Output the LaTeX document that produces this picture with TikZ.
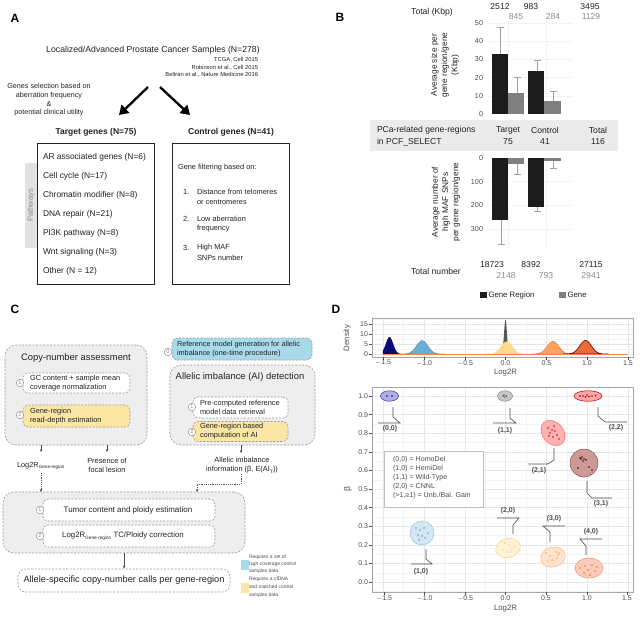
\documentclass[tikz,border=0pt]{standalone}
\usepackage{fontspec}
\setmainfont{Liberation Sans}
\usetikzlibrary{arrows.meta,shapes.geometric,calc}
\definecolor{boxgray}{HTML}{EEEEEE}
\definecolor{dashg}{HTML}{9A9A9A}
\definecolor{ylw}{HTML}{FCE6A4}
\definecolor{blu}{HTML}{A8DAE9}
\definecolor{numg}{HTML}{8A8A8A}
\definecolor{axg}{HTML}{4D4D4D}
\definecolor{gridc}{HTML}{E6E6E6}
\definecolor{gridm}{HTML}{F3F3F3}
\definecolor{barg}{HTML}{808080}
\definecolor{bark}{HTML}{1C1C1C}
\definecolor{bandg}{HTML}{EBEBEB}
\definecolor{pathg}{HTML}{E2E2E2}
\definecolor{txt}{HTML}{222222}
\definecolor{txtg}{HTML}{8C8C8C}
\definecolor{errg}{HTML}{A0A0A0}
\definecolor{pnavy}{HTML}{0B0B78}
\definecolor{pblue}{HTML}{6BAED6}
\definecolor{pgray}{HTML}{555555}
\definecolor{pyel}{HTML}{FDD98E}
\definecolor{porg}{HTML}{FBA35C}
\definecolor{pred}{HTML}{EE6A3A}
\newcommand{\myfs}[1]{\fontsize{#1}{#1}\selectfont}
\newcommand{\myfsl}[2]{\fontsize{#1}{#2}\selectfont}
\newcommand{\mydotset}[2]{\foreach \p in {#2} \fill[#1] \p circle (0.9);}
\begin{document}
\begin{tikzpicture}[x=1pt,y=-1pt,
  every node/.style={inner sep=0pt, outer sep=0pt, text=txt},
  panlab/.style={font=\myfs{12}\bfseries, text=black},
  fitem/.style={font=\myfs{8.4}, anchor=west},
  fctl/.style={font=\myfs{7.4}, anchor=west},
  fB/.style={font=\myfs{8.6}},
  fBg/.style={font=\myfs{8.6}, text=txtg},
  ftick/.style={font=\myfs{7.2}, anchor=east, text=axg},
  bigbox/.style={draw=black!85, line width=0.8pt, anchor=north west},
  bigarrow/.style={line width=2.3pt, -{Triangle[length=9pt,width=11pt]}},
  errl/.style={draw=errg, line width=0.45pt},
  cbig/.style={draw=dashg, line width=0.6pt, dash pattern=on 2pt off 1.5pt, fill=boxgray, rounded corners=11pt, anchor=north west},
  cin/.style={draw=dashg, line width=0.6pt, dash pattern=on 2pt off 1.5pt, fill=white, rounded corners=5pt, anchor=north west},
  num/.style={circle, draw=numg, fill=white, line width=0.4pt, minimum size=7.5pt, font=\myfs{5.5}, text=numg},
  ctext/.style={font=\myfsl{7.4}{9}, align=left, anchor=west},
  carr/.style={draw=axg, line width=0.5pt, -{Stealth[length=3pt,width=2.6pt]}},
  cdash/.style={carr, dash pattern=on 1.2pt off 1pt},
  dtick/.style={font=\myfs{7}, text=axg},
  ell/.style={ellipse, line width=0.5pt},
  lead/.style={draw=axg, line width=0.6pt},
  llab/.style={font=\myfs{7}\bfseries, text=axg}
]
\useasboundingbox (0,0) rectangle (642,616);
\fill[white] (0,0) rectangle (642,616);

%================ PANEL A ================
\node[panlab] (labA) at (15,18) {A};
\node[font=\myfs{8.7}] (title) at (153,50) {Localized/Advanced Prostate Cancer Samples (N=278)};
\node[font=\myfs{5.8}, anchor=east] (r1) at (258,60) {TCGA, Cell 2015};
\node[font=\myfs{5.8}, anchor=east] (r2) at (258,67.5) {Robinson et al., Cell 2015};
\node[font=\myfs{5.8}, anchor=east] (r3) at (258,75) {Beltran et al., Nature Medicine 2016};
\node[font=\myfsl{7.2}{8.7}, align=center] (sel) at (49,100) {Genes selection based on\\aberration frequency\\\&\\potential clinical utility};
\coordinate (a1s) at (148,87); \coordinate (a1e) at (119,115);
\coordinate (a2s) at (160,87); \coordinate (a2e) at (190,115);
\draw[bigarrow] (a1s) -- (a1e);
\draw[bigarrow] (a2s) -- (a2e);
\node[font=\myfs{8.5}\bfseries] (tgh) at (96,132) {Target genes (N=75)};
\node[font=\myfs{8.5}\bfseries] (cgh) at (231,132) {Control genes (N=41)};
\node[fill=pathg, minimum width=12, minimum height=85, anchor=north west] (pbar) at (25,163) {};
\node[rotate=90, font=\myfs{7.5}, text=numg] (ptxt) at (pbar.center) {Pathways};
\node[bigbox, minimum width=117, minimum height=141] (tbox) at (37,143) {};
\node[bigbox, minimum width=117, minimum height=141] (cbox) at (172,143) {};
\node[fitem] (i1) at (43,157) {AR associated genes (N=6)};
\node[fitem] (i2) at (43,176) {Cell cycle (N=17)};
\node[fitem] (i3) at (43,195) {Chromatin modifier (N=8)};
\node[fitem] (i4) at (43,214) {DNA repair (N=21)};
\node[fitem] (i5) at (43,233) {PI3K pathway (N=8)};
\node[fitem] (i6) at (43,252) {Wnt signaling (N=3)};
\node[fitem] (i7) at (43,271) {Other (N = 12)};
\node[fctl] (g0) at (178,168) {Gene filtering based on:};
\node[fctl] (g1n) at (183,192) {1.};
\node[fctl] (g1a) at (197,192) {Distance from telomeres};
\node[fctl] (g1b) at (197,202) {or centromeres};
\node[fctl] (g2n) at (183,219) {2.};
\node[fctl] (g2a) at (197,219) {Low aberration};
\node[fctl] (g2b) at (197,229) {frequency};
\node[fctl] (g3n) at (183,248) {3.};
\node[fctl] (g3a) at (197,248) {High MAF};
\node[fctl] (g3b) at (197,258) {SNPs number};

%================ PANEL B ================
\node[panlab] (labB) at (340,17) {B};
\node[fB] (totk) at (432,12) {Total (Kbp)};
\node[fB] (t1) at (500,7) {2512}; \node[fBg] (t1g) at (516,17) {845};
\node[fB] (t2) at (531,7) {983};  \node[fBg] (t2g) at (553,17) {284};
\node[fB] (t3) at (590,7) {3495}; \node[fBg] (t3g) at (591,17) {1129};
% top chart grid
\foreach \yy in {23,41.2,59.4,77.6,95.8} \draw[gridm, line width=0.5pt] (488,\yy) -- (572,\yy);
\foreach \xx in {508,546} \draw[gridm, line width=0.5pt] (\xx,20) -- (\xx,114);
\foreach \v/\yy in {50/23,40/41.2,30/59.4,20/77.6,10/95.8,0/114} \node[ftick] (tk\v) at (483,\yy) {\v};
% bars top
\fill[bark] (492,114) rectangle (508,54);
\fill[barg] (508,114) rectangle (524,93);
\fill[bark] (528,114) rectangle (544,71);
\fill[barg] (544,114) rectangle (561,101);
\draw[errl] (500,54) -- (500,27) (497,27) -- (504,27);
\draw[errl] (517,93) -- (517,77) (514,77) -- (521,77);
\draw[errl] (537,71) -- (537,60) (534,60) -- (541,60);
\draw[errl] (553,101) -- (553,91) (550,91) -- (557,91);
\node[rotate=90, font=\myfsl{8.3}{10.2}, align=center] (ylt) at (445,65) {Average size per\\gene region/gene\\(Kbp)};
% band
\fill[bandg] (370,120) rectangle (618,151);
\node[fB, anchor=west] (pc1) at (377,130) {PCa-related gene-regions};
\node[fB, anchor=west] (pc2) at (377,142) {in PCF\_SELECT};
\node[fB] (bt1) at (508,130) {Target};  \node[fB] (bt2) at (508,142) {75};
\node[fB] (bc1) at (545,130) {Control}; \node[fB] (bc2) at (545,142) {41};
\node[fB] (bo1) at (598,130) {Total};   \node[fB] (bo2) at (598,142) {116};
% bottom chart grid
\foreach \yy in {181.7,205.4,229.1} \draw[gridm, line width=0.5pt] (488,\yy) -- (572,\yy);
\foreach \xx in {508,546} \draw[gridm, line width=0.5pt] (\xx,158) -- (\xx,250);
\foreach \v/\yy in {0/158,100/181.7,200/205.4,300/229.1} \node[ftick] (bk\v) at (483,\yy) {\v};
\fill[bark] (492,158) rectangle (508,220);
\fill[barg] (508,158) rectangle (524,163.5);
\fill[bark] (528,158) rectangle (544,207);
\fill[barg] (544,158) rectangle (561,161);
\draw[errl] (501,220) -- (501,244) (498,244) -- (505,244);
\draw[errl] (517,163.5) -- (517,174) (514,174) -- (521,174);
\draw[errl] (537,207) -- (537,211) (534,211) -- (541,211);
\draw[errl] (553,161) -- (553,168) (550,168) -- (557,168);
\node[rotate=90, font=\myfsl{8.3}{10.2}, align=center] (ylb) at (446,202) {Average number of\\high MAF SNPs\\per gene region/gene};
\node[fB] (totn) at (436,271) {Total number};
\node[fB] (n1) at (492,265) {18723}; \node[fBg] (n1g) at (506,276) {2148};
\node[fB] (n2) at (531,265) {8392};  \node[fBg] (n2g) at (546,276) {793};
\node[fB] (n3) at (591,265) {27115}; \node[fBg] (n3g) at (591,276) {2941};
\node[fill=bark, minimum width=7, minimum height=6.5] (lgk) at (483.5,295) {};
\node[font=\myfs{7.8}, anchor=west] (lgkt) at (488.5,295) {Gene Region};
\node[fill=barg, minimum width=7, minimum height=6.5] (lgg) at (562.5,295) {};
\node[font=\myfs{7.8}, anchor=west] (lggt) at (567.5,295) {Gene};

%================ PANEL C ================
\node[panlab] (labC) at (15,309) {C};
\node[cbig, minimum width=142, minimum height=100] (cna) at (5,345) {};
\node[font=\myfs{9.4}] (cnat) at (76,358) {Copy-number assessment};
\node[cin, minimum width=107, minimum height=20] (c1) at (23,373) {};
\node[ctext] (c1t) at (30,383.5) {GC content + sample mean\\coverage normalization};
\node[num] (c1n) at (20,383) {1};
\node[cin, fill=ylw, minimum width=107, minimum height=22] (c2) at (23,405) {};
\node[ctext] (c2t) at (30,416) {Gene-region\\read-depth estimation};
\node[num] (c2n) at (20,415) {2};
\node[cin, fill=blu, minimum width=140, minimum height=22] (r0) at (172,338) {};
\node[ctext, font=\myfsl{7.3}{9}] (r0t) at (177,349.5) {Reference model generation for allelic\\imbalance (one-time procedure)};
\node[num] (r0n) at (168,352) {0};
\node[cbig, minimum width=145, minimum height=80] (aib) at (170,365) {};
\node[font=\myfs{9.4}] (aibt) at (240,377) {Allelic imbalance (AI) detection};
\node[cin, minimum width=95, minimum height=21] (a1) at (193,397) {};
\node[ctext] (a1t) at (200,407.5) {Pre-computed reference\\model data retrieval};
\node[num] (a1n) at (192,407) {1};
\node[cin, fill=ylw, minimum width=95, minimum height=20] (a2) at (193,421.5) {};
\node[ctext] (a2t) at (200,431.5) {Gene-region based\\computation of AI};
\node[num] (a2n) at (192,432) {2};
\coordinate (cs1) at (41,445); \coordinate (ce1) at (41,452);
\coordinate (cs2) at (107,445); \coordinate (ce2) at (107,452);
\coordinate (cs3) at (241,445); \coordinate (ce3) at (241,453);
\draw[carr] (cs1) -- (ce1);
\draw[carr] (cs2) -- (ce2);
\draw[carr] (cs3) -- (ce3);
\node[font=\myfs{7.4}, anchor=west] (l2r) at (17,466) {Log2R\raisebox{-1.6pt}{\myfs{4.6}Gene-region}};
\node[font=\myfsl{7.4}{9}, align=center] (pfl) at (107,465.5) {Presence of\\focal lesion};
\node[font=\myfsl{7.4}{9}, align=center] (aii) at (242,465.5) {Allelic imbalance\\information (β, E(AI\raisebox{-1.2pt}{\myfs{5}T}))};
\node[cbig, minimum width=242, minimum height=61] (corr) at (3,492) {};
\node[cin, minimum width=172, minimum height=22] (k1) at (43,499) {};
\node[font=\myfs{8}] (k1t) at (128,510) {Tumor content and ploidy estimation};
\node[num] (k1n) at (40,510) {1};
\node[cin, minimum width=172, minimum height=22] (k2) at (43,525) {};
\node[font=\myfs{7.8}] (k2t) at (123,536) {Log2R\raisebox{-1.6pt}{\myfs{4.7}Gene-region} TC/Ploidy correction};
\node[num] (k2n) at (40,536) {2};
\coordinate (d1s) at (41,473); \coordinate (d1e) at (41,492);
\draw[cdash] (d1s) -- (d1e);
\coordinate (d2s) at (241,474); \coordinate (d2e) at (197,492);
\draw[cdash] (d2s) -- (241,484) -| (d2e);
\node[cin, minimum width=212, minimum height=23, rounded corners=8pt] (fin) at (18,569) {};
\node[font=\myfs{9.2}] (fint) at (124,580.5) {Allele-specific copy-number calls per gene-region};
\coordinate (fs) at (124,553); \coordinate (fe) at (124,568.5);
\draw[carr] (fs) -- (fe);
\node[fill=blu, minimum width=8, minimum height=10] (lgb) at (244.5,565) {};
\node[font=\myfsl{4.9}{7.2}, align=left, anchor=west, text=axg] (lgbt) at (249,564) {Requires a set of\\high-coverage control\\samples data};
\node[fill=ylw, minimum width=8, minimum height=10] (lgy) at (244.5,588) {};
\node[font=\myfsl{4.9}{7.8}, align=left, anchor=west, text=axg] (lgyt) at (249,587) {Requires a cfDNA\\and matched control\\samples data};

%================ PANEL D ================
\node[panlab] (labD) at (336,309) {D};
% density panel
\begin{scope}
\clip (372,318) rectangle (633,357);
\foreach \xx in {403.5,444.5,485,526,567,608} \draw[gridm, line width=0.4pt] (\xx,318) -- (\xx,357);
\foreach \xx in {383,424,465,505.5,546.5,587,628} \draw[gridc, line width=0.5pt] (\xx,318) -- (\xx,357);
\foreach \yy in {319,329,339,349} \draw[gridm, line width=0.4pt] (372,\yy) -- (633,\yy);
\foreach \yy in {324,334,344,354} \draw[gridc, line width=0.5pt] (372,\yy) -- (633,\yy);
\end{scope}
\begin{scope}[shift={(505.5,354)}, x=81.7pt, y=2pt]
 \fill[pnavy] plot[domain=-1.5:-1.26, samples=40, smooth] (\x,{8.5*exp(-((\x+1.42)*(\x+1.42))/(2*0.045*0.045))}) -- (-1.26,0) -- (-1.5,0) -- cycle;
 \filldraw[fill=pblue, draw=pblue!80!black, line width=0.3pt] plot[domain=-1.3:-0.74, samples=50, smooth] (\x,{6.7*exp(-((\x+1.02)*(\x+1.02))/(2*0.07*0.07))}) -- cycle;
 \fill[pgray] plot[domain=-0.08:0.08, samples=50, smooth] (\x,{17*exp(-(\x*\x)/(2*0.018*0.018))}) -- cycle;
 \fill[pyel] plot[domain=-0.26:0.29, samples=50, smooth] (\x,{6.3*exp(-((\x-0.015)*(\x-0.015))/(2*0.07*0.07))}) -- cycle;
 \filldraw[fill=porg, draw=pred, line width=0.4pt] plot[domain=0.3:0.86, samples=50, smooth] (\x,{6.3*exp(-((\x-0.58)*(\x-0.58))/(2*0.07*0.07))}) -- cycle;
 \filldraw[fill=pred, draw=black!60!red, line width=0.6pt] plot[domain=0.7:1.26, samples=50, smooth] (\x,{6.8*exp(-((\x-0.98)*(\x-0.98))/(2*0.07*0.07))}) -- cycle;
 \draw[red!40!orange!70, line width=0.6pt] (-1.5,0) -- (1.5,0);
\end{scope}
\node[draw=black!35, line width=0.5pt, minimum width=261, minimum height=39, anchor=north west] (dpan) at (372,318) {};
\foreach \v/\yy in {15/324,10/334,5/344,0/354} {\node[dtick, anchor=east] (dy\v) at (368,\yy) {\v}; \draw[axg, line width=0.4pt] (369,\yy) -- (372,\yy);}
\foreach \v/\xx [count=\i] in {$-$1.5/383,$-$1.0/424,$-$0.5/465,0.0/505.5,0.5/546.5,1.0/587,1.5/628} {\node[dtick] (dx\i) at (\xx,363) {\v}; \draw[axg, line width=0.4pt] (\xx,357) -- (\xx,359.5);}
\node[font=\myfs{7.8}, text=axg] (dxl) at (505.5,373) {Log2R};
\node[font=\myfs{7.8}, text=axg, rotate=90] (dyl) at (347,338) {Density};

% scatter panel
\begin{scope}
\clip (372,387) rectangle (633,592);
\foreach \xx in {403.5,444.5,485,526,567,608} \draw[gridm, line width=0.4pt] (\xx,387) -- (\xx,592);
\foreach \xx in {383,424,465,505.5,546.5,587,628} \draw[gridc, line width=0.5pt] (\xx,387) -- (\xx,592);
\foreach \k in {0,...,10} \draw[gridc, line width=0.5pt] (372,582-18.6*\k) -- (633,582-18.6*\k);
\foreach \k in {0,...,10} \draw[gridm, line width=0.4pt] (372,591.3-18.6*\k) -- (633,591.3-18.6*\k);
\end{scope}
\node[draw=black!35, line width=0.5pt, minimum width=261, minimum height=205, anchor=north west] (span) at (372,387) {};
\foreach \v [count=\k from 0] in {0.0,0.1,0.2,0.3,0.4,0.5,0.6,0.7,0.8,0.9,1.0} {\node[dtick, anchor=east] (sy\k) at (368,582-18.6*\k) {\v}; \draw[axg, line width=0.4pt] (369,582-18.6*\k) -- (372,582-18.6*\k);}
\foreach \v/\xx [count=\i] in {$-$1.5/384,$-$1.0/424.5,$-$0.5/465,0.0/505.5,0.5/546,1.0/587,1.5/627} {\node[dtick] (sx\i) at (\xx,598.5) {\v}; \draw[axg, line width=0.4pt] (\xx,592) -- (\xx,594.5);}
\node[font=\myfs{7.8}, text=axg] (sxl) at (505.5,609) {Log2R};
\node[font=\myfs{8.5}, text=axg, rotate=90] (syl) at (348,489) {β};

% legend
\node[draw=black!25, fill=white, line width=0.5pt, minimum width=99, minimum height=56, anchor=north west] (sleg) at (384,451) {};
\node[font=\myfsl{7.1}{9.2}, align=left, anchor=north west, text=axg] (slegt) at (393,456) {(0,0) = HomoDel\\(1,0) = HemiDel\\(1,1) = Wild-Type\\(2,0) = CNNL\\(>1,≥1) = Unb./Bal. Gain};

% ellipses
\node[ell, draw=blue!50!black!80, fill=blue!30!white!90!black, fill opacity=0.85, minimum width=18, minimum height=10.5] (e00) at (389.5,396) {};
\mydotset{pnavy}{(387,396),(392,396)}
\node[ell, draw=black!45, fill=black!22, minimum width=15, minimum height=10.5] (e11) at (505,396) {};
\mydotset{black!65}{(503,396),(505,397),(506.5,396),(504,395)}
\node[ell, draw=red!65!black, fill=red!35, minimum width=28, minimum height=10.5] (e22) at (588,396) {};
\mydotset{red!60!black}{(580,396),(583,396),(585.5,397),(587,395),(589,396.5),(592,396),(595.5,395.5)}
\node[ell, draw=red!60, fill=red!30, minimum width=28, minimum height=21, rotate=-50] (e21) at (553,433) {};
\mydotset{red!80!black}{(548,428),(552,430),(555,431),(550,433),(557,435),(553,437),(559,439),(549,436),(554,426)}
\node[ell, draw=red!40!black!70, fill=red!50!black!40, minimum width=28, minimum height=28] (e31) at (584,463) {};
\mydotset{red!30!black}{(580,458),(582,457),(584,459),(583,461),(586,460),(578,468),(589,467),(592,470),(581,459)}
\node[ell, draw=pblue!70, fill=pblue!30, minimum width=24, minimum height=24, rotate=-30] (e10) at (422,533) {};
\mydotset{pblue!90!black}{(416,528),(420,530),(424,528),(418,535),(422,536),(425,538),(419,540),(428,533)}
\node[ell, draw=pyel!90!orange, fill=pyel!35, minimum width=25, minimum height=19, rotate=15] (e20) at (508,548) {};
\mydotset{pyel!90!orange}{(505,543),(509,545),(512,548),(503,550),(507,552),(511,551),(515,546)}
\node[ell, draw=porg!80, fill=porg!30, minimum width=25, minimum height=20, rotate=15] (e30) at (553,557) {};
\mydotset{porg}{(546,553),(550,556),(556,552),(558,555),(552,560),(557,558),(548,561),(559,553)}
\node[ell, draw=pred!70, fill=pred!35, minimum width=28, minimum height=20] (e40) at (589,568) {};
\mydotset{pred}{(580,568),(585,566),(588,570),(592,565),(595,571),(584,573),(597,567),(590,575)}

% leader lines and labels
\draw[lead] (393,407) -- (393,417) -- (400,423) -- (378,423);
\node[llab] (l00) at (390,429) {(0,0)};
\draw[lead] (510,408) -- (510,418) -- (516,423) -- (493,423);
\node[llab] (l11) at (505,431) {(1,1)};
\draw[lead] (598,407) -- (598,416) -- (605,422) -- (627,422);
\node[llab] (l22) at (616,428) {(2,2)};
\draw[lead] (554,448) -- (554,460) -- (548,464) -- (528,464);
\node[llab] (l21) at (539,471) {(2,1)};
\draw[lead] (587,481) -- (587,493) -- (592,498) -- (612,498);
\node[llab] (l31) at (601,504) {(3,1)};
\draw[lead] (426,549) -- (426,559) -- (432,564) -- (411,564);
\node[llab] (l10) at (421,572) {(1,0)};
\draw[lead] (513,534) -- (513,525) -- (519,518) -- (497,518);
\node[llab] (l20) at (508,511) {(2,0)};
\draw[lead] (550,542) -- (550,532) -- (543,526) -- (565,526);
\node[llab] (l30) at (554,519) {(3,0)};
\draw[lead] (586,555) -- (586,546) -- (580,539) -- (602,539);
\node[llab] (l40) at (591,532) {(4,0)};
\end{tikzpicture}
\end{document}
